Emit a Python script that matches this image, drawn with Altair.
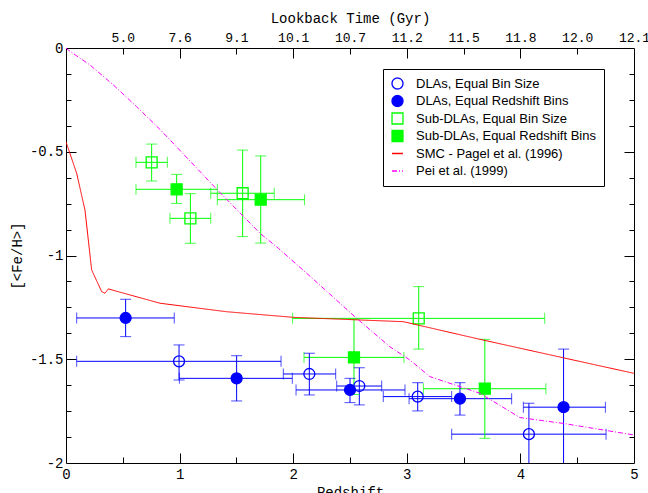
import altair as alt
import pandas as pd

# ---------------- data ----------------
series_names = ["DLAs, Equal Bin Size", "DLAs, Equal Redshift Bins",
                "Sub-DLAs, Equal Bin Size", "Sub-DLAs, Equal Redshift Bins",
                "SMC - Pagel et al. (1996)", "Pei et al. (1999)"]

# DLAs, equal bin size (open circles)
dla_bin_z   = [0.995, 2.142, 2.582, 3.096, 4.075]
dla_bin_fe  = [-1.510, -1.571, -1.629, -1.680, -1.861]
dla_bin_zlo = [0.094, 1.913, 2.383, 2.793, 3.395]
dla_bin_zhi = [1.893, 2.374, 2.779, 3.395, 4.754]
dla_bin_lo  = [-1.600, -1.672, -1.720, -1.749, -2.05]
dla_bin_hi  = [-1.431, -1.471, -1.541, -1.613, -1.712]

# DLAs, equal redshift bins (filled circles)
dla_eq_z   = [0.525, 1.502, 2.500, 3.468, 4.380]
dla_eq_fe  = [-1.301, -1.592, -1.648, -1.690, -1.731]
dla_eq_zlo = [0.094, 0.998, 2.025, 3.020, 4.026]
dla_eq_zhi = [0.953, 1.992, 2.984, 3.923, 4.748]
dla_eq_lo  = [-1.391, -1.701, -1.709, -1.769, -2.05]
dla_eq_hi  = [-1.211, -1.483, -1.592, -1.613, -1.451]

# Sub-DLAs, equal bin size (open squares)
sub_bin_z   = [0.754, 1.095, 1.555, 3.105]
sub_bin_fe  = [-0.551, -0.821, -0.700, -1.303]
sub_bin_zlo = [0.616, 0.915, 1.274, 1.995]
sub_bin_zhi = [0.892, 1.274, 1.833, 4.214]
sub_bin_lo  = [-0.641, -0.941, -0.909, -1.451]
sub_bin_hi  = [-0.463, -0.702, -0.492, -1.150]

# Sub-DLAs, equal redshift bins (filled squares)
sub_eq_z   = [0.974, 1.714, 2.535, 3.687]
sub_eq_fe  = [-0.681, -0.731, -1.491, -1.642]
sub_eq_zlo = [0.616, 1.332, 2.095, 3.146]
sub_eq_zhi = [1.332, 2.100, 2.975, 4.224]
sub_eq_lo  = [-0.749, -0.940, -1.670, -1.881]
sub_eq_hi  = [-0.609, -0.520, -1.308, -1.404]

# SMC model (Pagel et al. 1996)
smc_z  = [0.0, 0.094, 0.167, 0.226, 0.314, 0.343, 0.372, 0.563, 0.827, 1.414, 2.0, 2.97, 3.644, 4.378, 5.0]
smc_fe = [-0.452, -0.604, -0.781, -1.07, -1.174, -1.182, -1.161, -1.19, -1.23, -1.271, -1.298, -1.319, -1.404, -1.493, -1.568]

# Pei et al. (1999)
pei_z  = [0.0, 0.02, 0.211, 0.417, 0.622, 0.827, 1.326, 1.708, 1.869, 2.177, 2.559, 2.852, 3.028, 3.204, 3.644, 3.996, 4.375, 4.642, 5.0]
pei_fe = [0.0, -0.01, -0.082, -0.178, -0.283, -0.392, -0.68, -0.893, -0.965, -1.114, -1.303, -1.44, -1.504, -1.584, -1.664, -1.781, -1.809, -1.833, -1.865]

# axis tick values / labels
x_major = [0, 1, 2, 3, 4, 5]
x_minor = [0.5, 1.5, 2.5, 3.5, 4.5]
y_major = [-2, -1.5, -1, -0.5, 0]
y_minor = [-1.875, -1.75, -1.625, -1.375, -1.25, -1.125, -0.875, -0.75, -0.625, -0.375, -0.25, -0.125]
top_pos = [0.5, 1.0, 1.5, 2.0, 2.5, 3.0, 3.5, 4.0, 4.5, 5.0]
top_lab = ["5.0", "7.6", "9.1", "10.1", "10.7", "11.2", "11.5", "11.8", "12.0", "12.1"]

# ---------------- tables ----------------
rows = []
def add(name, grp, z, fe, zlo, zhi, lo, hi):
    for i in range(len(z)):
        rows.append(dict(series=name, grp=grp, z=z[i], v=fe[i], xlo=zlo[i], xhi=zhi[i], ylo=lo[i], yhi=hi[i]))
add(series_names[0], "blue", dla_bin_z, dla_bin_fe, dla_bin_zlo, dla_bin_zhi, dla_bin_lo, dla_bin_hi)
add(series_names[1], "blue", dla_eq_z, dla_eq_fe, dla_eq_zlo, dla_eq_zhi, dla_eq_lo, dla_eq_hi)
add(series_names[2], "green", sub_bin_z, sub_bin_fe, sub_bin_zlo, sub_bin_zhi, sub_bin_lo, sub_bin_hi)
add(series_names[3], "green", sub_eq_z, sub_eq_fe, sub_eq_zlo, sub_eq_zhi, sub_eq_lo, sub_eq_hi)
pts = pd.DataFrame(rows)

lines = pd.DataFrame(
    [dict(series=series_names[4], z=a, v=b, i=k) for k, (a, b) in enumerate(zip(smc_z, smc_fe))] +
    [dict(series=series_names[5], z=a, v=b, i=k) for k, (a, b) in enumerate(zip(pei_z, pei_fe))])

# ---------------- scales ----------------
xs = alt.Scale(domain=[0, 5], nice=False, zero=False)
ys = alt.Scale(domain=[-2, 0], nice=False, zero=False)

shape_sc = alt.Scale(domain=series_names, range=["circle", "circle", "square", "square", "stroke", "stroke"])
fill_sc = alt.Scale(domain=series_names, range=["transparent", "#0000ff", "transparent", "#00ff00", "transparent", "transparent"])
stroke_sc = alt.Scale(domain=series_names, range=["#0000ff", "#0000ff", "#00ff00", "#00ff00", "#ff0000", "#ff00ff"])
size_sc = alt.Scale(domain=series_names, range=[120, 120, 85, 85, 400, 400])
dash_sc = alt.Scale(domain=series_names, range=[[1, 0], [1, 0], [1, 0], [1, 0], [1, 0], [5, 2, 1, 2]])

eb_color = alt.Color("grp:N", scale=alt.Scale(domain=["blue", "green"], range=["#0000ff", "#00ff00"]), legend=None)
X = lambda f: alt.X(f, type="quantitative", scale=xs, axis=None)
Y = lambda f: alt.Y(f, type="quantitative", scale=ys, axis=None)

base = alt.Chart(pts)
xerr = base.mark_rule(strokeWidth=1, clip=True).encode(x=X("xlo"), x2="xhi:Q", y=Y("v"), color=eb_color)
yerr = base.mark_rule(strokeWidth=1, clip=True).encode(x=X("z"), y=Y("ylo"), y2="yhi:Q", color=eb_color)
cap1 = base.mark_tick(orient="vertical", size=11, thickness=1, clip=True).encode(x=X("xlo"), y=Y("v"), color=eb_color)
cap2 = base.mark_tick(orient="vertical", size=11, thickness=1, clip=True).encode(x=X("xhi"), y=Y("v"), color=eb_color)
cap3 = base.mark_tick(orient="horizontal", size=11, thickness=1, clip=True).encode(x=X("z"), y=Y("ylo"), color=eb_color)
cap4 = base.mark_tick(orient="horizontal", size=11, thickness=1, clip=True).encode(x=X("z"), y=Y("yhi"), color=eb_color)

leg = alt.Legend(title=None)
points = base.mark_point(filled=True, strokeWidth=1.3, opacity=1).encode(
    x=X("z"), y=Y("v"),
    shape=alt.Shape("series:N", scale=shape_sc, legend=leg),
    fill=alt.Fill("series:N", scale=fill_sc, legend=leg),
    stroke=alt.Stroke("series:N", scale=stroke_sc, legend=leg),
    size=alt.Size("series:N", scale=size_sc, legend=leg),
)
curves = alt.Chart(lines).mark_line(strokeWidth=1, clip=True).encode(
    x=X("z"), y=Y("v"),
    stroke=alt.Stroke("series:N", scale=stroke_sc, legend=leg),
    strokeDash=alt.StrokeDash("series:N", scale=dash_sc, legend=leg),
    order="i:Q",
)

data_layer = alt.layer(xerr, yerr, cap1, cap2, cap3, cap4, points, curves)

# ---------------- axes ----------------
mono = "Liberation Mono"

def axis_layer(xaxis, yaxis):
    return alt.Chart(pts).mark_point(opacity=0).encode(
        x=alt.X("z:Q", scale=xs, axis=xaxis),
        y=alt.Y("v:Q", scale=ys, axis=yaxis))

def tick_axis(orient, values, size):
    return alt.Axis(orient=orient, values=values, labels=False, domain=False, grid=False,
                    ticks=True, tickSize=size, offset=-size, tickColor="black", tickWidth=1, title=None)

label_x = alt.Axis(orient="bottom", values=x_major, ticks=False, domain=False, grid=False,
                   labelFont=mono, labelFontSize=14, labelColor="black", labelPadding=4,
                   labelFlush=False, labelOverlap=False, labelExpr="toString(datum.value)",
                   title="Redshift", titleFont=mono, titleFontSize=14, titleFontWeight="normal",
                   titleColor="black", titlePadding=4)
label_y = alt.Axis(orient="left", values=y_major, ticks=False, domain=False, grid=False,
                   labelFont=mono, labelFontSize=14, labelColor="black", labelPadding=3,
                   labelFlush=False, labelOverlap=False, labelExpr="toString(datum.value)",
                   title="[<Fe/H>]", titleFont=mono, titleFontSize=14, titleFontWeight="normal",
                   titleColor="black", titlePadding=5)
top_expr = "[" + ",".join("'%s'" % s for s in top_lab) + "][round(datum.value*2)-1]"
label_top = alt.Axis(orient="top", values=top_pos, ticks=False, domain=False, grid=False,
                     labelFont=mono, labelFontSize=13, labelColor="black", labelPadding=4,
                     labelFlush=False, labelOverlap=False, labelExpr=top_expr,
                     title="Lookback Time (Gyr)", titleFont=mono, titleFontSize=14,
                     titleFontWeight="normal", titleColor="black", titlePadding=6)

ax1 = axis_layer(label_x, label_y)
ax2 = axis_layer(label_top, None)
ax3 = axis_layer(tick_axis("bottom", x_major[1:-1], 10), tick_axis("left", y_major[1:-1], 10))
ax4 = axis_layer(tick_axis("bottom", x_minor, 6), tick_axis("left", y_minor, 5))
ax5 = axis_layer(tick_axis("top", x_major[1:-1], 10), tick_axis("right", y_major[1:-1], 10))
ax6 = axis_layer(tick_axis("top", x_minor, 6), tick_axis("right", y_minor, 5))

chart = alt.layer(data_layer, ax1, ax2, ax3, ax4, ax5, ax6).resolve_scale(
    x="independent", y="independent").resolve_axis(x="independent", y="independent").properties(
    width=568, height=415,
    autosize=alt.AutoSizeParams(type="none"),
    padding={"left": 66, "top": 48, "right": 14, "bottom": 30},
    background="white",
).configure_view(stroke="black", strokeWidth=1).configure_legend(
    orient="none", legendX=317, legendY=21, strokeColor="black", fillColor="white",
    padding=8, labelFont="Liberation Sans", labelFontSize=13, labelColor="black",
    labelLimit=0, gridAlign="all", symbolStrokeWidth=1.3, labelOffset=12, rowPadding=0.5,
)

chart.save("out.html", embed_options={"renderer": "svg", "actions": False})
